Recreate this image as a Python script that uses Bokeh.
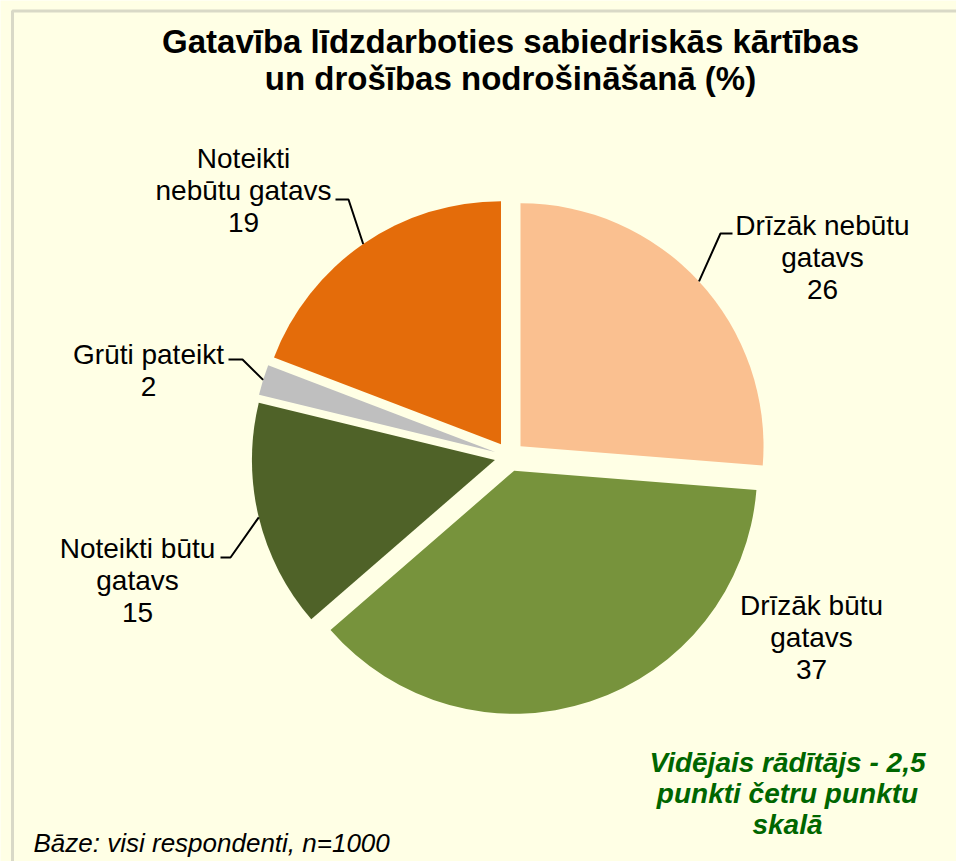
import numpy as np
from bokeh.plotting import figure
from bokeh.models import Range1d, ColumnDataSource, BoxAnnotation
from bokeh.core.properties import value
from bokeh.embed import file_html
from bokeh.resources import INLINE

# ---- data ----
categories = ["Drīzāk nebūtu\ngatavs", "Drīzāk būtu\ngatavs", "Noteikti būtu\ngatavs",
              "Grūti pateikt", "Noteikti\nnebūtu gatavs"]
values = [26, 37, 15, 2, 19]
colors = ["#FAC090", "#77933C", "#4F6228", "#BFBFBF", "#E46C0A"]
title_text = "Gatavība līdzdarboties sabiedriskās kārtības\nun drošības nodrošināšanā (%)"
note_text = "Vidējais rādītājs - 2,5\npunkti četru punktu\nskalā"
base_text = "Bāze: visi respondenti, n=1000"

# ---- layout (screen px of the reference) ----
W, H = 956, 861
PAGE_H = 861
BG = "#FFFFE5"
FONT = value("Liberation Sans")

def sy(y):
    return PAGE_H - y

center_x, center_y = 509, sy(456)
R = 243
explode = 15

# label anchors (screen)
label_pos = [(822, 257), (811, 637), (137, 580), (148, 370), (243, 190)]
# leader elbows / ends (screen), None = no leader
leader_pts = [[(720, 233), (732, 233)], None, [(230, 557), (220, 557)],
              [(242, 359), (228, 359)], [(348, 199), (335, 199)]]

vals = np.array(values, dtype=float)
total = vals.sum()
cum = np.concatenate([[0], np.cumsum(vals)])
start = np.pi / 2 - 2 * np.pi * cum[:-1] / total
end = np.pi / 2 - 2 * np.pi * cum[1:] / total
mid = (start + end) / 2
cx = center_x + explode * np.cos(mid)
cy = center_y + explode * np.sin(mid)

src = ColumnDataSource(dict(x=cx, y=cy, start=start, end=end, color=colors))

p = figure(width=W, height=H, x_range=Range1d(0, W), y_range=Range1d(PAGE_H - H, PAGE_H),
           x_axis_type=None, y_axis_type=None, toolbar_location=None, output_backend="svg",
           min_border=0, background_fill_color=BG, border_fill_color=BG, outline_line_color=None)
p.grid.visible = False

p.add_layout(BoxAnnotation(left=12, right=2000, top=sy(10.5), bottom=-2000, fill_alpha=0,
                           line_color="#808080", line_width=3))

p.wedge(x="x", y="y", radius=R, start_angle="start", end_angle="end", direction="clock",
        fill_color="color", line_color=None, source=src)

# leader lines
xs, ys = [], []
for i, pts in enumerate(leader_pts):
    if pts is None:
        continue
    x0 = cx[i] + R * np.cos(mid[i])
    y0 = cy[i] + R * np.sin(mid[i])
    xs.append([x0] + [q[0] for q in pts])
    ys.append([y0] + [sy(q[1]) for q in pts])
p.multi_line(xs=xs, ys=ys, line_color="black", line_width=2)

# data labels
lab = ColumnDataSource(dict(x=[q[0] for q in label_pos], y=[sy(q[1]) for q in label_pos],
                            t=[f"{c}\n{v}" for c, v in zip(categories, values)]))
p.text(x="x", y="y", text="t", source=lab, text_font=FONT, text_font_size="28px",
       text_align="center", text_baseline="middle", text_line_height=1.02, text_color="black")

# title
p.text(x=[510], y=[sy(59)], text=[title_text], text_font=FONT, text_font_size="33px",
       text_font_style="bold", text_align="center", text_baseline="middle",
       text_line_height=1.0, text_color="black")

# note
p.text(x=[787], y=[sy(793)], text=[note_text], text_font=FONT, text_font_size="28px",
       text_font_style="bold italic", text_align="center", text_baseline="middle",
       text_line_height=1.0, text_color="#006600")

# base
p.text(x=[33], y=[sy(842)], text=[base_text], text_font=FONT, text_font_size="26px",
       text_font_style="italic", text_align="left", text_baseline="middle", text_color="black")

open("out.html", "w").write(file_html(p, INLINE))
